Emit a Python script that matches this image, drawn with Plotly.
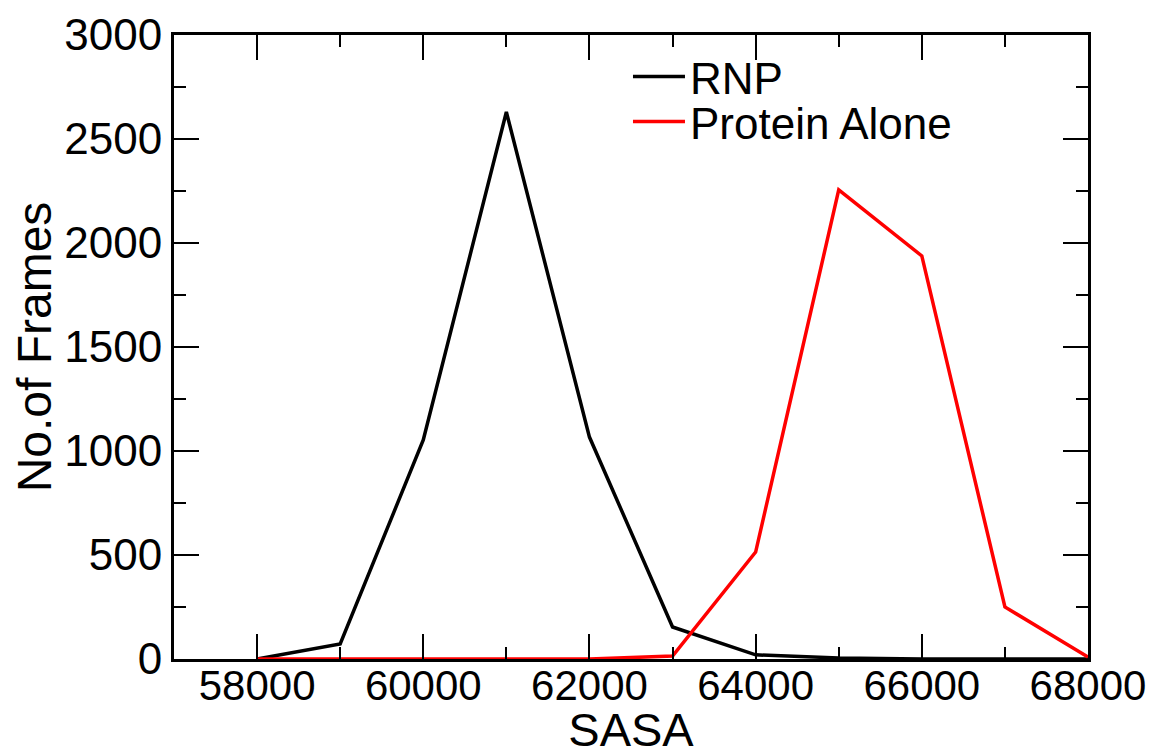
import plotly.graph_objects as go

sasa = [58000, 59000, 60000, 61000, 62000, 63000, 64000, 65000, 66000, 67000, 68000]
rnp = [0, 72, 1053, 2630, 1067, 154, 20, 5, 0, 0, 0]
protein_alone = [0, 0, 0, 0, 0, 14, 514, 2255, 1938, 250, 10]

x_ticks = [58000, 60000, 62000, 64000, 66000, 68000]
y_ticks = [0, 500, 1000, 1500, 2000, 2500, 3000]

FONT = "Liberation Sans, Arial, sans-serif"

fig = go.Figure()
fig.add_trace(go.Scatter(x=sasa, y=rnp, mode="lines", name="RNP",
                         line=dict(color="black", width=3.5), cliponaxis=False,
                         legend="legend"))
fig.add_trace(go.Scatter(x=sasa, y=protein_alone, mode="lines", name="Protein Alone",
                         line=dict(color="#ff0000", width=3.5), cliponaxis=False,
                         legend="legend2"))

axis_common = dict(
    showline=True, linecolor="black", linewidth=3, mirror="allticks",
    ticks="inside", ticklen=25, tickwidth=2, tickcolor="black",
    showgrid=False, zeroline=False, automargin=False,
)

fig.update_xaxes(
    range=[57000, 68000], tickvals=x_ticks, ticktext=[str(v) for v in x_ticks],
    tickfont=dict(family=FONT, size=42, color="black"), ticklabelstandoff=-12,
    minor=dict(ticks="inside", ticklen=12, tickwidth=2, tickcolor="black", dtick=1000, tick0=57000, showgrid=False),
    title=dict(text="SASA", font=dict(family=FONT, size=47, color="black"), standoff=20),
    **axis_common,
)
fig.update_yaxes(
    range=[0, 3000], tickvals=y_ticks, ticktext=[str(v) for v in y_ticks],
    tickfont=dict(family=FONT, size=44, color="black"),
    minor=dict(ticks="inside", ticklen=12, tickwidth=2, tickcolor="black", dtick=250, tick0=0, showgrid=False),
    title=dict(text="No.of Frames", font=dict(family=FONT, size=48, color="black"), standoff=16),
    **axis_common,
)

leg_common = dict(xanchor="left", yanchor="middle", bgcolor="rgba(0,0,0,0)",
                  font=dict(family=FONT, size=44, color="black"), itemwidth=52,
                  borderwidth=0)

# Page has an 8px body margin, so the figure is sized to fit the visible window.
fig.update_layout(
    width=1147, height=748,
    margin=dict(l=166, r=67, t=27, b=97, autoexpand=False),
    paper_bgcolor="white", plot_bgcolor="white",
    font=dict(family=FONT, color="black"),
    legend=dict(x=0.4967, y=0.9327, **leg_common),
    legend2=dict(x=0.4967, y=0.8606, **leg_common),
    showlegend=True,
)

fig.write_html("out.html")
